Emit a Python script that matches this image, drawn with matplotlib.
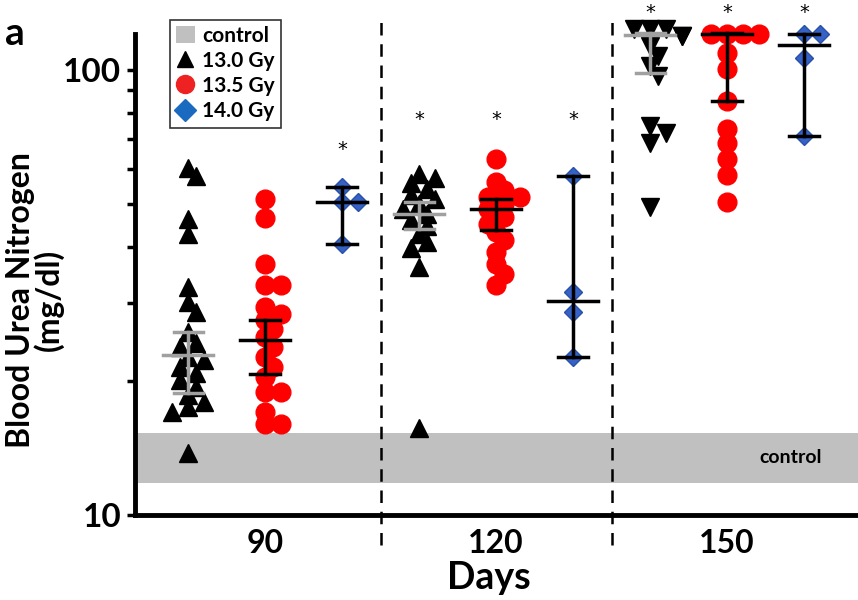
import matplotlib
matplotlib.use("Agg")
from matplotlib import pyplot as plt
from matplotlib.lines import Line2D
from matplotlib.patches import Patch
import numpy as np

plt.rcParams['font.family'] = ['Lato', 'DejaVu Sans']
plt.rcParams['font.weight'] = 'bold'

days = ['90', '120', '150']
doses = ['13.0 Gy', '13.5 Gy', '14.0 Gy']

# blood urea nitrogen per animal (mg/dl)
bun_90_130 = [60.1, 57.7, 46.3, 42.7, 32.5, 30.1, 28.6, 25.8, 24.4, 23.8, 22.6, 22.3,
              21.5, 20.9, 20.1, 19.4, 18.6, 17.9, 17.5, 17.0, 13.8]
bun_90_135 = [51.2, 46.4, 36.7, 32.9, 32.9, 29.3, 28.3, 27.4, 26.2, 25.1, 23.8, 22.6,
              21.5, 20.4, 18.9, 18.9, 17.0, 16.0, 16.0]
bun_90_140 = [54.7, 50.6, 50.6, 40.6]
bun_120_130 = [58.5, 57.3, 55.6, 53.9, 52.5, 51.2, 49.9, 48.6, 47.4, 46.1, 44.7, 42.9,
               41.1, 39.8, 36.1, 15.7]
bun_120_135 = [63.2, 56.1, 53.8, 51.9, 51.9, 50.1, 48.6, 46.8, 45.1, 43.3, 41.6, 39.0,
               36.7, 34.8, 32.9]
bun_120_140 = [57.7, 31.7, 28.6, 22.6]
bun_150_130 = [123.9, 123.9, 123.9, 119.4, 119.4, 113.3, 107.6, 102.1, 96.9,
               74.7, 72.1, 68.5, 49.3]
bun_150_135 = [120.5, 120.5, 120.5, 120.5, 109.1, 100.5, 85.1, 73.6, 68.5, 63.0, 58.2, 50.6]
bun_150_140 = [120.5, 120.5, 106.4, 71.0]

# mean and error bar ends for each day, in dose order
mean_90 = [22.9, 24.7, 50.6]
hi_90 = [25.8, 27.5, 54.7]
lo_90 = [18.8, 20.7, 40.6]
mean_120 = [47.5, 48.8, 30.3]
hi_120 = [50.6, 51.4, 57.7]
lo_120 = [44.0, 43.8, 22.6]
mean_150 = [120.0, 120.5, 113.8]
hi_150 = [121.0, 121.0, 120.5]
lo_150 = [98.4, 85.1, 71.0]

control_lo = 11.8
control_hi = 15.3

# significance stars: (day index, dose index, height)
stars_day = [0, 1, 1, 1, 2, 2, 2]
stars_dose = [2, 0, 1, 2, 0, 1, 2]
stars_y = [66.4, 77.4, 77.4, 77.4, 135, 135, 135]

groups = [[bun_90_130, bun_90_135, bun_90_140],
          [bun_120_130, bun_120_135, bun_120_140],
          [bun_150_130, bun_150_135, bun_150_140]]
means = [mean_90, mean_120, mean_150]
his = [hi_90, hi_120, hi_150]
los = [lo_90, lo_120, lo_150]

offset = [-0.333, 0.0, 0.333]
black = 'black'
red = '#ff0000'
blue = '#3562c4'

fig = plt.figure(figsize=(8.58, 6), dpi=100)
ax = fig.add_axes([135 / 858, 85 / 600, 723 / 858, 481 / 600])
ax.set_yscale('log')
ax.set_ylim(10, 120.5)
ax.set_xlim(-0.563, 2.567)


def swarm(xc, ys, step=8, rad=11):
    # simple deterministic beeswarm in pixel space
    placed = []
    xs = []
    for y in ys:
        px, py = ax.transData.transform((xc, y))
        k = 0
        while True:
            dx = ((k + 1) // 2) * step * (1 if k % 2 else -1) if k else 0
            ok = all((px + dx - qx) ** 2 + (py - qy) ** 2 >= rad ** 2 for qx, qy in placed)
            if ok or k > 6:
                break
            k += 1
        placed.append((px + dx, py))
        xs.append(ax.transData.inverted().transform((px + dx, py))[0])
    return xs


ax.axhspan(control_lo, control_hi, color='#c0c0c0', zorder=0, lw=0)
ax.text(2.41, 13.45, 'control', ha='right', va='center', fontsize=14, fontweight='bold')

for d in range(3):
    for g in range(3):
        xc = d + offset[g]
        ys = groups[d][g]
        xs = swarm(xc, ys)
        if g == 0:
            mk = 'v' if d == 2 else '^'
            ax.plot(xs, ys, mk, color=black, ms=13, ls='none', clip_on=False, zorder=3)
            ec = '#a0a0a0'
        elif g == 1:
            ax.plot(xs, ys, 'o', color=red, ms=13.5, ls='none', clip_on=False, zorder=3)
            ec = black
        else:
            ax.plot(xs, ys, 'D', mfc=blue, mec='#2a50a8', ms=9, ls='none', clip_on=False, zorder=3)
            ec = black
        m, hi, lo = means[d][g], his[d][g], los[d][g]
        ax.plot([xc, xc], [lo, hi], color=ec, lw=2.5, zorder=4, clip_on=False)
        ax.plot([xc - 0.063, xc + 0.063], [hi, hi], color=ec, lw=2.5, zorder=4, clip_on=False)
        ax.plot([xc - 0.063, xc + 0.063], [lo, lo], color=ec, lw=2.5, zorder=4, clip_on=False)
        ax.plot([xc - 0.108, xc + 0.108], [m, m], color=ec, lw=2.5, zorder=4, clip_on=False)

for d, g, y in zip(stars_day, stars_dose, stars_y):
    ax.text(d + offset[g], y, '*', ha='center', va='center', fontsize=14,
            family='DejaVu Sans', fontweight='normal', clip_on=False)

for xv in [0.5, 1.5]:
    ax.axvline(xv, ymin=-0.062, ymax=1.04, color='black', lw=1.8, ls=(0, (5, 3.5)), clip_on=False)

ax.set_yticks([10, 100])
ax.set_yticklabels(['10', '100'])
ax.set_yticks([20, 30, 40, 50, 60, 70, 80, 90], minor=True)
ax.yaxis.set_minor_formatter(matplotlib.ticker.NullFormatter())
ax.tick_params(axis='y', which='both', direction='out', length=6, width=2.5, labelsize=24, pad=4)
ax.set_xticks([0, 1, 2])
ax.set_xticklabels(days)
ax.tick_params(axis='x', length=0, labelsize=23, pad=10)

for s in ['top', 'right']:
    ax.spines[s].set_visible(False)
for s in ['left', 'bottom']:
    ax.spines[s].set_linewidth(3.5)

ax.set_ylabel('Blood Urea Nitrogen\n(mg/dl)', fontsize=23, fontweight='bold', linespacing=0.95)
ax.yaxis.set_label_coords(-0.098, 0.447)
ax.set_xlabel('Days', fontsize=27, fontweight='bold')
ax.xaxis.set_label_coords(0.49, -0.095)

fig.text(0.006, 0.925, 'a', fontsize=28, fontweight='bold')

handles = [Patch(facecolor='#c0c0c0', edgecolor='none'),
           Line2D([], [], marker='^', color=black, ls='none', ms=12),
           Line2D([], [], marker='o', color='#ee2222', ls='none', ms=13),
           Line2D([], [], marker='D', color='#1a6bc0', ls='none', ms=11)]
leg = ax.legend(handles, ['control'] + doses, loc='upper left', bbox_to_anchor=(0.048, 1.03),
                fontsize=15, frameon=True, fancybox=False, handlelength=0.9, handletextpad=0.35,
                borderpad=0.3, labelspacing=0.25, borderaxespad=0, handleheight=0.9)
leg.get_frame().set_edgecolor('black')
leg.get_frame().set_linewidth(1.2)
for t in leg.get_texts():
    t.set_fontweight('bold')

fig.savefig('out.png', dpi=100)
